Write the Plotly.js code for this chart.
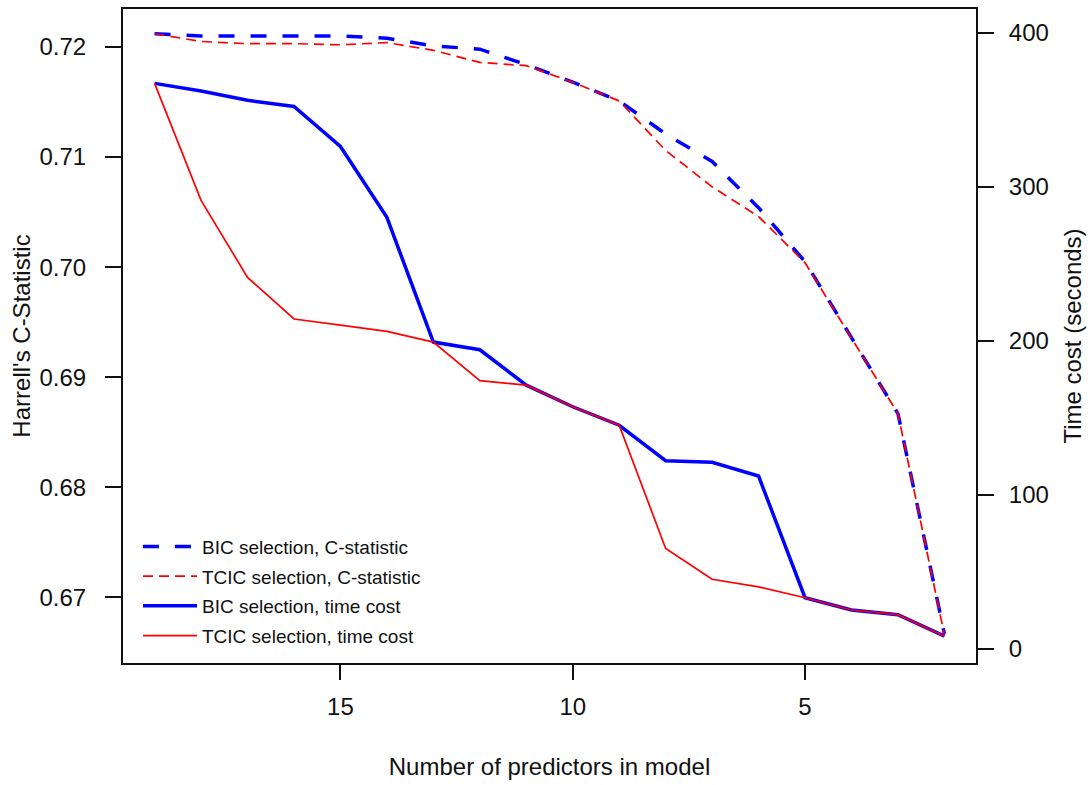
<!DOCTYPE html>
<html>
<head>
<meta charset="utf-8">
<script src="https://cdn.plot.ly/plotly-3.0.1.min.js"></script>
<style>html,body{margin:0;padding:0;background:#fff;}#chart{width:1092px;height:785px;}</style>
</head>
<body>
<div id="chart"></div>
<script>
var predictors = [19,18,17,16,15,14,13,12,11,10,9,8,7,6,5,4,3,2];
var bicCstat  = [0.7212,0.7210,0.7210,0.7210,0.7210,0.7208,0.7201,0.7198,0.7184,0.7168,0.7151,0.7121,0.7096,0.7054,0.7005,0.6936,0.6867,0.6667];
var tcicCstat = [0.7212,0.7205,0.7203,0.7203,0.7202,0.7204,0.7197,0.7186,0.7183,0.7168,0.7151,0.7106,0.7073,0.7046,0.7004,0.6936,0.6867,0.6666];
var bicTime   = [367,362,356,352,326,280,199,194,171,157,145,122,121,112,33,25,22,8];
var tcicTime  = [367,291,241,214,210,206,199,174,171,157,145,65,45,40,33,25,22,8];
var xTicks = [15,10,5];
var yTicks = [0.67,0.68,0.69,0.70,0.71,0.72];
var y2Ticks = [0,100,200,300,400];
var names = ["BIC selection, C-statistic","TCIC selection, C-statistic","BIC selection, time cost","TCIC selection, time cost"];

var FONT = "Liberation Sans, Arial, sans-serif";
var traces = [
  {x: predictors, y: bicCstat, name: names[0], legendgroup: "a", type: "scatter", mode: "lines", yaxis: "y",
   line: {color: "#0000ff", width: 3.5, dash: "16px,16px"}},
  {x: predictors, y: tcicCstat, name: names[1], legendgroup: "b", type: "scatter", mode: "lines", yaxis: "y",
   line: {color: "#ff0000", width: 1.7, dash: "10px,6px"}},
  {x: predictors, y: bicTime, name: names[2], legendgroup: "c", type: "scatter", mode: "lines", yaxis: "y2",
   line: {color: "#0000ff", width: 3.5}},
  {x: predictors, y: tcicTime, name: names[3], legendgroup: "d", type: "scatter", mode: "lines", yaxis: "y2",
   line: {color: "#ff0000", width: 1.7}}
];

var layout = {
  width: 1092, height: 785,
  margin: {l: 123, r: 116, t: 9, b: 122, pad: 0},
  paper_bgcolor: "#fff", plot_bgcolor: "#fff",
  font: {family: FONT, size: 24, color: "#111"},
  showlegend: true,
  legend: {x: 0.0176, y: 0.207, xanchor: "left", yanchor: "top", bgcolor: "rgba(0,0,0,0)",
           itemwidth: 54, tracegroupgap: 2,
           font: {family: FONT, size: 19, color: "#111"}},
  xaxis: {range: [19.68, 1.32], tickvals: xTicks, ticktext: xTicks.map(String),
          ticks: "outside", ticklen: 15, tickwidth: 2, tickcolor: "#111",
          ticklabelstandoff: 6,
          showline: true, mirror: true, linewidth: 2, linecolor: "#111",
          showgrid: false, zeroline: false,
          title: {text: "Number of predictors in model", font: {family: FONT, size: 24, color: "#111"}, standoff: 39}},
  yaxis: {range: [0.66405, 0.72345], tickvals: yTicks, ticktext: yTicks.map(function(v){return v.toFixed(2);}),
          ticks: "outside", ticklen: 16, tickwidth: 2, tickcolor: "#111",
          ticklabelstandoff: 14,
          showline: true, mirror: true, linewidth: 2, linecolor: "#111",
          showgrid: false, zeroline: false,
          title: {text: "Harrell's C-Statistic", font: {family: FONT, size: 24, color: "#111"}, standoff: 2}},
  yaxis2: {overlaying: "y", side: "right", range: [-9.4, 415.3], tickvals: y2Ticks, ticktext: y2Ticks.map(String),
          ticks: "outside", ticklen: 17, tickwidth: 2, tickcolor: "#111",
          ticklabelstandoff: 10,
          showline: false, showgrid: false, zeroline: false,
          title: {text: "Time cost (seconds)", font: {family: FONT, size: 24, color: "#111"}, standoff: 16}}
};

Plotly.newPlot("chart", traces, layout, {displayModeBar: false, staticPlot: true});
</script>
</body>
</html>
